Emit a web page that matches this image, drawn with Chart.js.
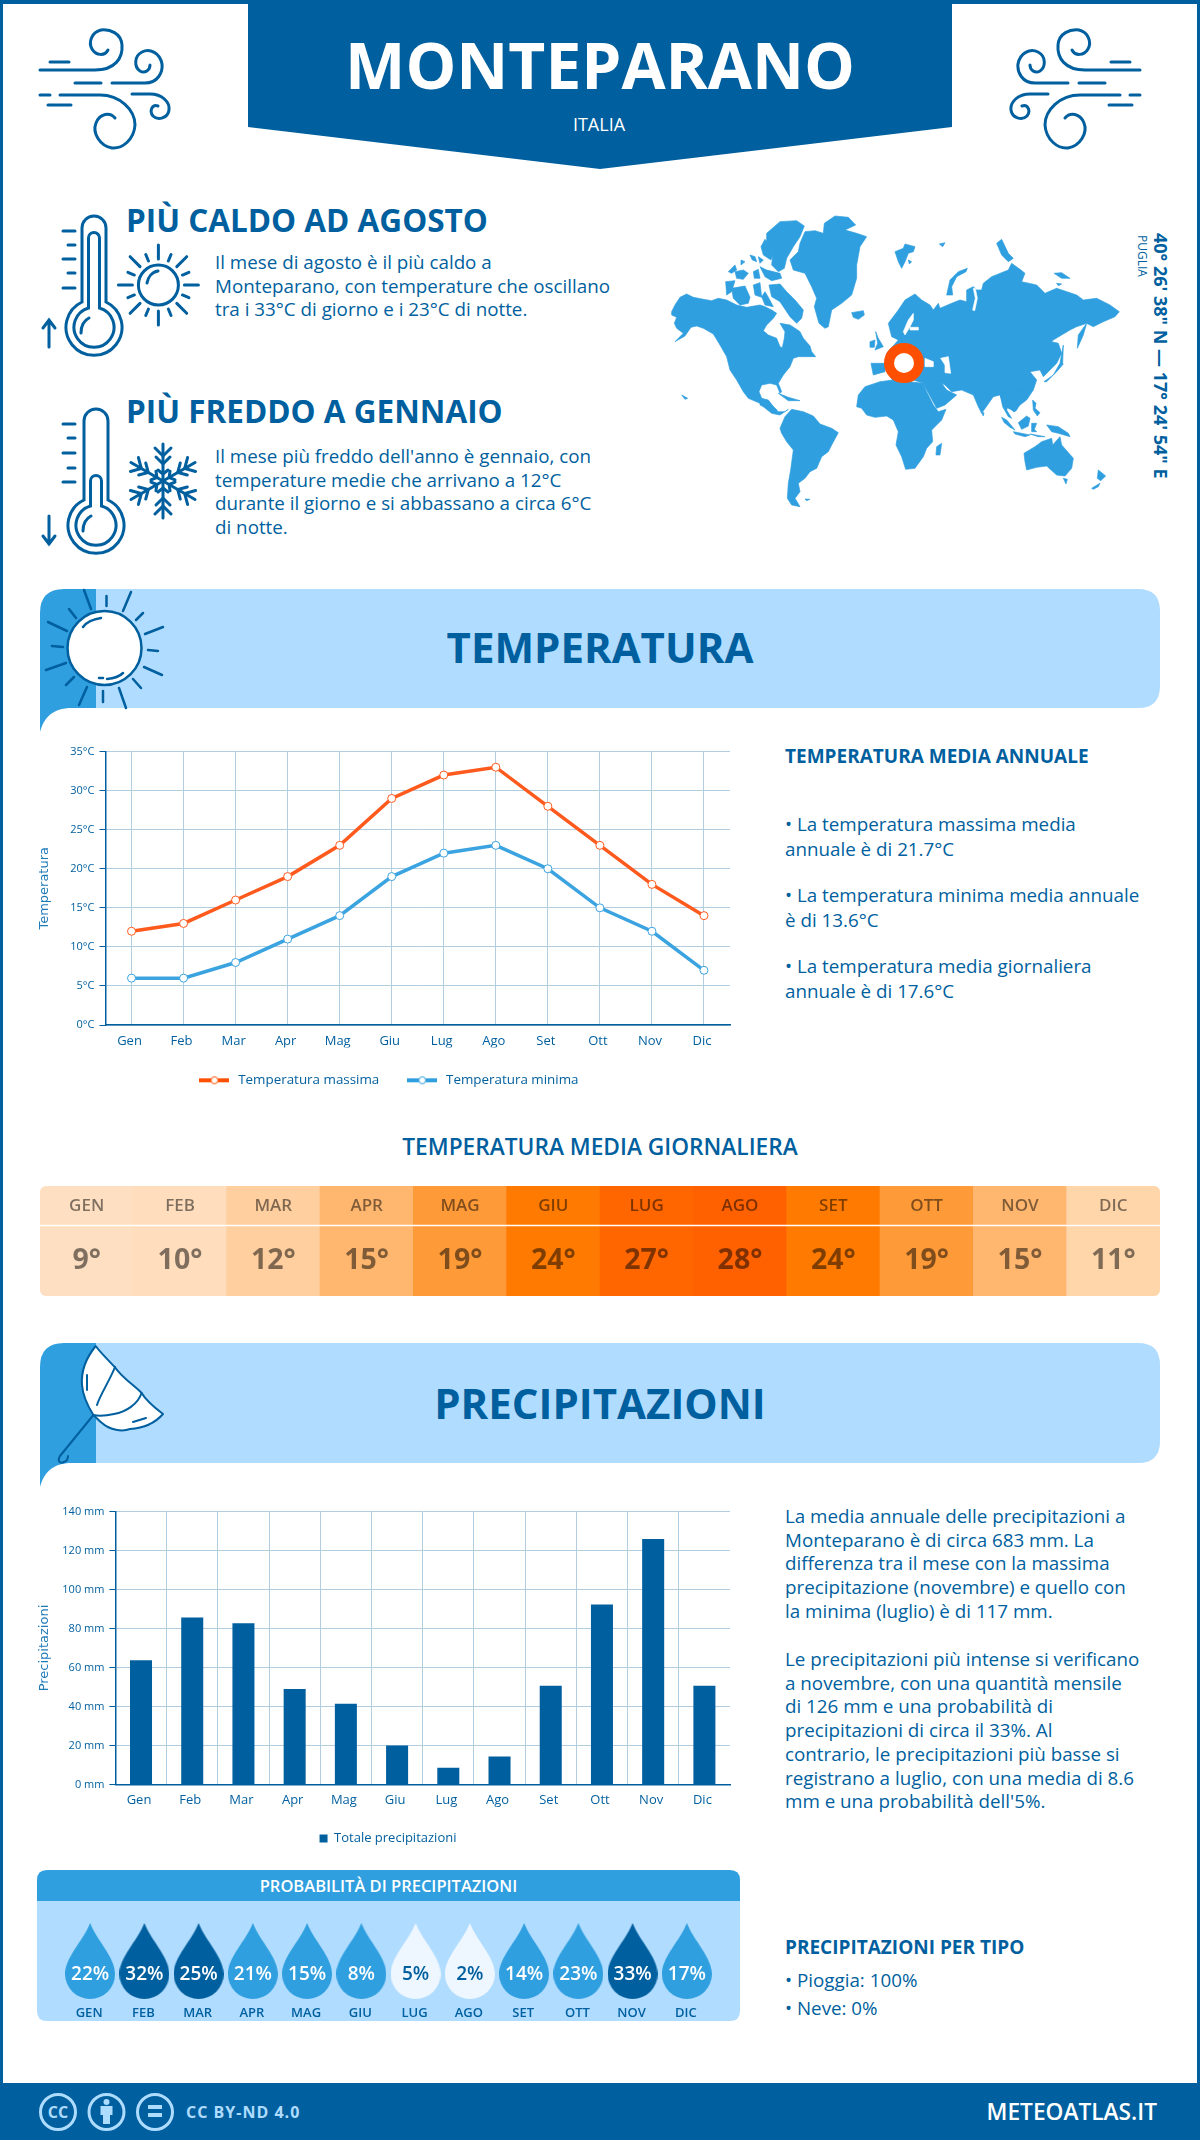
<!DOCTYPE html>
<html lang="it">
<head>
<meta charset="utf-8">
<title>Monteparano</title>
<script src="https://cdn.jsdelivr.net/npm/chart.js@4"></script>
<style>
    html, body { margin: 0; padding: 0; background: #fff; }
    body { position: relative; width: 1200px; height: 2140px; overflow: hidden; font-family: "Open Sans", sans-serif; color: #005f9e; }
    #decor, .frame, canvas, .t { position: absolute; }
    #decor { left: 0; top: 0; }
    .frame { left: 0; top: 0; width: 1194px; height: 2136px; border: solid #005f9e; border-width: 4px 3px 0 3px; }
    .t { white-space: nowrap; margin: 0; }
    .h2 { font-size: 31.5px; font-weight: 700; line-height: 40px; left: 126px; }
    .p { font-size: 18.8px; line-height: 23.7px; }
    .h3 { font-size: 19px; font-weight: 700; line-height: 24px; left: 785px; }
    .band { font-size: 42px; font-weight: 700; line-height: 56px; left: 0; width: 1200px; text-align: center; }
    .strip { left: 40px; top: 1186px; border-radius: 6px; }
</style>
</head>
<body>
<svg id="decor" width="1200" height="2140" viewBox="0 0 1200 2140"></svg>
<div class="frame"></div>

<p class="t" style="left:0;width:1200px;top:20px;text-align:center;font-size:64px;font-weight:700;line-height:90px;color:#fff">MONTEPARANO</p>
<p class="t" style="left:-1px;width:1200px;top:111px;text-align:center;font-size:18px;line-height:26px;color:#fff">ITALIA</p>

<p class="t h2" style="top:200px">PIÙ CALDO AD AGOSTO</p>
<p class="t p" style="left:215px;top:251px">Il mese di agosto è il più caldo a<br>Monteparano, con temperature che oscillano<br>tra i 33°C di giorno e i 23°C di notte.</p>
<p class="t h2" style="top:391px">PIÙ FREDDO A GENNAIO</p>
<p class="t p" style="left:215px;top:445px">Il mese più freddo dell'anno è gennaio, con<br>temperature medie che arrivano a 12°C<br>durante il giorno e si abbassano a circa 6°C<br>di notte.</p>

<p class="t" style="left:1151px;top:233px;writing-mode:vertical-rl;font-size:18px;font-weight:700;line-height:20px">40° 26' 38" N — 17° 24' 54" E</p>
<p class="t" style="left:1135px;top:235px;writing-mode:vertical-rl;font-size:12px;line-height:14px">PUGLIA</p>

<p class="t band" style="top:619px">TEMPERATURA</p>
<canvas id="tempChart" width="740" height="357" style="left:30px;top:740px"></canvas>
<p class="t h3" style="top:744px">TEMPERATURA MEDIA ANNUALE</p>
<p class="t p" style="left:785px;top:812px;line-height:24.5px">• La temperatura massima media<br>annuale è di 21.7°C</p>
<p class="t p" style="left:785px;top:883px;line-height:24.5px">• La temperatura minima media annuale<br>è di 13.6°C</p>
<p class="t p" style="left:785px;top:954px;line-height:24.5px">• La temperatura media giornaliera<br>annuale è di 17.6°C</p>

<p class="t" style="left:0;width:1200px;top:1132px;text-align:center;font-size:22.7px;font-weight:600;line-height:30px">TEMPERATURA MEDIA GIORNALIERA</p>
<canvas id="dailyChart" class="strip" width="1120" height="110"></canvas>

<p class="t band" style="top:1375px">PRECIPITAZIONI</p>
<canvas id="rainChart" width="740" height="355" style="left:30px;top:1500px"></canvas>
<p class="t p" style="left:785px;top:1505px">La media annuale delle precipitazioni a<br>Monteparano è di circa 683 mm. La<br>differenza tra il mese con la massima<br>precipitazione (novembre) e quello con<br>la minima (luglio) è di 117 mm.</p>
<p class="t p" style="left:785px;top:1648px">Le precipitazioni più intense si verificano<br>a novembre, con una quantità mensile<br>di 126 mm e una probabilità di<br>precipitazioni di circa il 33%. Al<br>contrario, le precipitazioni più basse si<br>registrano a luglio, con una media di 8.6<br>mm e una probabilità dell'5%.</p>

<p class="t" style="left:37px;width:703px;top:1871px;text-align:center;font-size:16.5px;font-weight:600;line-height:30px;color:#fff">PROBABILITÀ DI PRECIPITAZIONI</p>
<canvas id="chanceChart" width="703" height="120" style="left:37px;top:1901px"></canvas>

<p class="t h3" style="top:1935px">PRECIPITAZIONI PER TIPO</p>
<p class="t p" style="left:785px;top:1966px;line-height:28px">• Pioggia: 100%<br>• Neve: 0%</p>

<p class="t" style="left:186px;top:2099px;font-size:16px;font-weight:700;line-height:26px;letter-spacing:1px;color:#aedcff">CC BY-ND 4.0</p>
<p class="t" style="right:43px;top:2096px;font-size:22.7px;font-weight:600;line-height:32px;color:#fff">METEOATLAS.IT</p>

<script>
const months = ['Gen', 'Feb', 'Mar', 'Apr', 'Mag', 'Giu', 'Lug', 'Ago', 'Set', 'Ott', 'Nov', 'Dic'];
const monthsUpper = ['GEN', 'FEB', 'MAR', 'APR', 'MAG', 'GIU', 'LUG', 'AGO', 'SET', 'OTT', 'NOV', 'DIC'];

const tempMax = [12, 13, 16, 19, 23, 29, 32, 33, 28, 23, 18, 14];
const tempMin = [6, 6, 8, 11, 14, 19, 22, 23, 20, 15, 12, 7];
const tempTicks = [0, 5, 10, 15, 20, 25, 30, 35];

const dailyTemps = [9, 10, 12, 15, 19, 24, 27, 28, 24, 19, 15, 11];
const dailyColors = ['#ffdfc1', '#ffddbd', '#ffcf9f', '#ffb66e', '#ff9a38', '#ff7a00', '#ff6600', '#ff6000', '#ff7a00', '#ff9a38', '#ffb66e', '#ffd5aa'];

const rainTotals = [63.8, 85.7, 82.7, 49, 41.4, 20, 8.6, 14.4, 50.6, 92.4, 126, 50.6];
const rainChance = [22, 32, 25, 21, 15, 8, 5, 2, 14, 23, 33, 17];

const DARK = '#005f9e';
const MID = '#2f9fdf';
const LIGHT = '#b0dcff';
const GRID = '#b2cde0';
const ORANGE = '#ff5a1e';
const AXIS_TITLE = '#1f7ab8';
const TICK_FONT = { family: 'Open Sans', size: 11 };
const CAT_FONT = { family: 'Open Sans', size: 13 };
const TITLE_FONT = { family: 'DejaVu Sans', size: 13 };

document.addEventListener('DOMContentLoaded', () => {
    drawDecor();
    initTempChart();
    initDailyChart();
    initRainChart();
    initChanceChart();
});

/**
 * Line swatch with a hollow marker, for the temperature legend
 */
function lineSwatch(color) {
    const c = document.createElement('canvas');
    c.width = 30;
    c.height = 10;
    const g = c.getContext('2d');
    g.fillStyle = color;
    g.fillRect(0, 3, 30, 4);
    g.beginPath();
    g.arc(15, 5, 3.5, 0, Math.PI * 2);
    g.fillStyle = '#fff';
    g.fill();
    g.strokeStyle = color;
    g.lineWidth = 1;
    g.stroke();
    return c;
}

/**
 * Temperature lines
 */
function initTempChart() {
    const swatches = [lineSwatch('#ff4f00'), lineSwatch(MID)];

    new Chart(document.getElementById('tempChart'), {
        type: 'line',
        data: {
            labels: months,
            datasets: [
                { label: 'Temperatura massima', data: tempMax, borderColor: ORANGE },
                { label: 'Temperatura minima', data: tempMin, borderColor: '#3aa3e0' }
            ].map(ds => ({
                ...ds,
                borderWidth: 3.5,
                tension: 0,
                pointRadius: 4,
                pointBorderWidth: 1,
                pointBackgroundColor: '#fff',
                pointBorderColor: ds.borderColor
            }))
        },
        options: {
            responsive: false,
            animation: false,
            layout: { padding: { top: 10, right: 40, left: 16, bottom: 0 } },
            plugins: {
                tooltip: { enabled: false },
                legend: {
                    position: 'bottom',
                    labels: {
                        color: DARK,
                        font: { family: 'Open Sans', size: 13.4 },
                        usePointStyle: true,
                        pointStyleWidth: 34,
                        padding: 26,
                        generateLabels: chart => chart.data.datasets.map((ds, i) => ({
                            text: ds.label,
                            datasetIndex: i,
                            fontColor: DARK,
                            pointStyle: swatches[i],
                            lineWidth: 0
                        }))
                    }
                }
            },
            scales: {
                x: {
                    offset: true,
                    afterFit: scale => { scale.height = scale.chart.height - scale.chart.legend.height - 285; },
                    grid: { color: GRID, drawTicks: false },
                    border: { color: DARK, width: 1.5 },
                    ticks: { color: DARK, font: CAT_FONT, padding: 8, maxRotation: 0, labelOffset: -2 }
                },
                y: {
                    min: 0,
                    max: 35,
                    afterFit: scale => { scale.width = 59.5; },
                    afterBuildTicks: scale => { scale.ticks = tempTicks.map(v => ({ value: v })); },
                    title: { display: true, text: 'Temperatura', color: AXIS_TITLE, font: TITLE_FONT, padding: { top: -9, bottom: 0 } },
                    grid: { color: GRID, tickColor: DARK, tickLength: 6 },
                    border: { color: DARK, width: 1.5 },
                    ticks: { color: DARK, font: TICK_FONT, padding: 5, callback: v => `${v}°C` }
                }
            }
        }
    });
}

/**
 * Daily mean temperature strip: one coloured cell per month
 */
function initDailyChart() {
    const cellText = {
        id: 'cellText',
        afterDatasetsDraw(chart) {
            const { ctx, chartArea, scales } = chart;
            ctx.save();
            ctx.strokeStyle = '#fff';
            ctx.lineWidth = 1.5;
            ctx.beginPath();
            ctx.moveTo(chartArea.left, chartArea.top + 39.5);
            ctx.lineTo(chartArea.right, chartArea.top + 39.5);
            ctx.stroke();
            ctx.textAlign = 'center';
            ctx.textBaseline = 'middle';
            ctx.fillStyle = 'rgba(0, 0, 0, 0.5)';
            dailyTemps.forEach((t, i) => {
                const x = scales.x.getPixelForValue(i);
                ctx.font = '600 17px "Open Sans"';
                ctx.fillText(monthsUpper[i], x, chartArea.top + 20);
                ctx.font = '700 28.5px "Open Sans"';
                ctx.fillText(`${t}°`, x, chartArea.top + 75);
            });
            ctx.restore();
        }
    };

    new Chart(document.getElementById('dailyChart'), {
        type: 'bar',
        plugins: [cellText],
        data: {
            labels: monthsUpper,
            datasets: [{
                data: dailyTemps.map(() => 1),
                backgroundColor: dailyColors,
                barPercentage: 1,
                categoryPercentage: 1
            }]
        },
        options: {
            responsive: false,
            animation: false,
            plugins: { legend: { display: false }, tooltip: { enabled: false } },
            scales: {
                x: { display: false },
                y: { display: false, min: 0, max: 1 }
            }
        }
    });
}

/**
 * Monthly precipitation bars
 */
function initRainChart() {
    new Chart(document.getElementById('rainChart'), {
        type: 'bar',
        data: {
            labels: months,
            datasets: [{
                label: 'Totale precipitazioni',
                data: rainTotals,
                backgroundColor: DARK,
                barPercentage: 0.43,
                categoryPercentage: 1
            }]
        },
        options: {
            responsive: false,
            animation: false,
            layout: { padding: { top: 9.5, right: 40, left: 16, bottom: 0 } },
            plugins: {
                tooltip: { enabled: false },
                legend: {
                    position: 'bottom',
                    labels: {
                        color: DARK,
                        font: { family: 'Open Sans', size: 13 },
                        boxWidth: 8,
                        boxHeight: 8,
                        padding: 20
                    }
                }
            },
            scales: {
                x: {
                    afterFit: scale => { scale.height = scale.chart.height - scale.chart.legend.height - 284.5; },
                    grid: { color: ctx => (ctx.tick ? GRID : 'transparent'), drawTicks: false },
                    border: { color: DARK, width: 1.5 },
                    ticks: { color: DARK, font: CAT_FONT, padding: 8, maxRotation: 0, labelOffset: -2 }
                },
                y: {
                    min: 0,
                    max: 140,
                    afterFit: scale => { scale.width = 69.4; },
                    title: { display: true, text: 'Precipitazioni', color: AXIS_TITLE, font: TITLE_FONT, padding: { top: -9, bottom: 0 } },
                    grid: { color: GRID, tickColor: DARK, tickLength: 6 },
                    border: { color: DARK, width: 1.5 },
                    ticks: { color: DARK, font: TICK_FONT, padding: 5, stepSize: 20, callback: v => `${v} mm` }
                }
            }
        }
    });
}

/**
 * Teardrop marker for the precipitation chance row
 */
function dropImage(color) {
    const c = document.createElement('canvas');
    c.width = 50;
    c.height = 76;
    const g = c.getContext('2d');
    g.fillStyle = color;
    g.beginPath();
    g.moveTo(25, 0);
    g.bezierCurveTo(32, 18, 50, 34, 50, 51);
    g.arc(25, 51, 25, 0, Math.PI);
    g.bezierCurveTo(0, 34, 18, 18, 25, 0);
    g.fill();
    return c;
}

function chanceColor(pct) {
    if (pct >= 25) return DARK;
    if (pct >= 8) return MID;
    return '#eef7ff';
}

/**
 * Precipitation chance: one drop per month, coloured by its value
 */
function initChanceChart() {
    const drops = rainChance.map(p => dropImage(chanceColor(p)));

    const dropText = {
        id: 'dropText',
        afterDatasetsDraw(chart) {
            const { ctx } = chart;
            const points = chart.getDatasetMeta(0).data;
            ctx.save();
            ctx.textAlign = 'center';
            ctx.textBaseline = 'middle';
            rainChance.forEach((p, i) => {
                ctx.fillStyle = chanceColor(p) === '#eef7ff' ? DARK : '#fff';
                ctx.font = '600 19px "Open Sans"';
                ctx.fillText(`${p}%`, points[i].x, points[i].y + 14);
                ctx.fillStyle = DARK;
                ctx.font = '600 13px "Open Sans"';
                ctx.fillText(monthsUpper[i], points[i].x - 1, points[i].y + 52);
            });
            ctx.restore();
        }
    };

    new Chart(document.getElementById('chanceChart'), {
        type: 'line',
        plugins: [dropText],
        data: {
            labels: monthsUpper,
            datasets: [{
                data: rainChance.map(() => 1),
                showLine: false,
                clip: false,
                pointRadius: 25,
                pointStyle: ctx => drops[ctx.dataIndex]
            }]
        },
        options: {
            responsive: false,
            animation: false,
            layout: { padding: { bottom: 16 } },
            plugins: { legend: { display: false }, tooltip: { enabled: false } },
            scales: {
                x: { display: false, offset: true },
                y: { display: false, min: 0, max: 2 }
            }
        }
    });
}

/* === Non-data artwork: banner, bands, icons and map === */

function thermometer(cx, cy, top, innerTop) {
    const o = `<path d="M${cx - 12} ${top + 12} A12 12 0 0 1 ${cx + 12} ${top + 12} V${cy - 25} A28 28 0 1 1 ${cx - 12} ${cy - 25} Z"/>`;
    const i = `<path d="M${cx - 5.5} ${innerTop + 6} A5.5 5.5 0 0 1 ${cx + 5.5} ${innerTop + 6} V${cy - 19} A20 20 0 1 1 ${cx - 5.5} ${cy - 19} Z"/>`;
    const glint = `<path d="M${cx - 13} ${cy + 6} C${cx - 13} ${cy - 2} ${cx - 9} ${cy - 7} ${cx - 5} ${cy - 9}"/>`;
    return o + i + glint;
}

function radial(cx, cy, count, from, to, shortTo) {
    let out = '';
    for (let i = 0; i < count; i++) {
        const a = i * 2 * Math.PI / count;
        const r2 = i % 2 === 0 ? to : shortTo;
        out += `<line x1="${cx + from * Math.sin(a)}" y1="${cy - from * Math.cos(a)}" x2="${cx + r2 * Math.sin(a)}" y2="${cy - r2 * Math.cos(a)}"/>`;
    }
    return out;
}

function snowflake(cx, cy) {
    let out = '';
    for (let i = 0; i < 6; i++) {
        out += `<g transform="rotate(${i * 60} ${cx} ${cy})">
            <path d="M${cx} ${cy} V${cy - 37}"/>
            <path d="M${cx - 8} ${cy - 33} L${cx} ${cy - 25} L${cx + 8} ${cy - 33}"/>
            <path d="M${cx - 7} ${cy - 24} L${cx} ${cy - 17} L${cx + 7} ${cy - 24}"/>
            <path d="M${cx - 5} ${cy - 11} L${cx} ${cy - 7} L${cx + 5} ${cy - 11}"/>
        </g>`;
    }
    return out;
}

function windIcon() {
    return `<path d="M40 70 H95 C115 70 123 58 122 45 C121 33 110 29 101 30 C92 32 88 42 92 49 C96 56 105 56 108 50"/>
        <path d="M50 62 H69 M75 83 H101 M40 95 H50 M48 105 H71"/>
        <path d="M112 83 H145 C158 83 163 72 162 64 C160 53 150 48 142 52 C134 56 134 67 140 71 C145 74 150 70 150 65"/>
        <path d="M60 95 H100 C120 95 135 110 135 125 C134 140 122 149 112 148 C100 146 92 133 96 123 C100 113 110 112 115 118"/>
        <path d="M132 94 H150 C162 94 170 102 169 110 C168 118 158 121 153 116 C149 111 152 104 158 106"/>`;
}

// map outlines traced by eye, each group in 3x pixels from its own corner of the map
const mapWest = [
    '20,305 30,285 45,262 65,252 85,262 115,268 140,272 160,265 185,270 215,285 245,292 285,285 300,290 320,300 335,310 325,325 305,345 295,362 310,375 335,385 345,410 352,413 358,385 360,365 345,340 375,345 395,358 405,365 415,385 435,408 440,425 452,440 425,440 400,440 385,445 375,470 355,495 340,520 350,545 345,550 335,525 315,520 290,525 282,545 290,565 310,570 325,590 335,600 310,600 285,580 250,565 235,545 215,510 195,480 185,440 165,405 145,372 115,355 95,348 78,352 60,378 30,395 55,370 35,355 28,340 35,322 20,315',
    '312,225 345,222 365,245 390,270 415,300 410,325 395,340 375,320 345,275 320,260',
    '200,235 240,228 255,262 250,280 225,285 205,265', '182,215 210,212 200,245 185,255',
    '265,225 285,218 290,262 270,255', '300,245 310,262 325,290 300,285 290,260',
    '190,185 210,165 215,180 200,190', '210,185 235,180 250,190 235,208 215,205', '265,185 280,178 285,205 268,205',
    '285,170 305,180 345,190 350,205 320,212 300,200', '255,135 270,140 275,155 262,150', '280,140 295,150 285,160', '228,150 240,155 228,165',
    '305,70 345,35 395,32 418,48 405,80 385,110 365,145 358,175 340,185 320,165 325,120 305,95',
    '288,110 300,88 315,105 328,125 318,150 295,135',
    '375,150 400,125 405,100 420,65 450,62 475,70 478,40 510,18 550,22 572,45 540,60 575,70 605,80 585,110 575,165 575,205 560,255 530,280 500,300 490,350 480,355 462,340 448,290 455,265 440,230 420,190 385,180',
    '560,308 595,302 598,315 580,328 565,322',
    '632,365 640,385 655,410 630,420 638,400', '615,395 630,390 628,412 615,412', '618,460 660,460 660,485 625,495',
    '50,555 68,565 60,568', '340,550 370,562 405,572 370,572'
];
const mapEast = [
    '20,450 20,400 55,360 35,350 25,310 55,270 75,240 105,222 125,240 150,255 160,270 175,250 180,265 215,250 240,240 260,245 260,210 280,200 290,210 305,210 310,190 335,170 385,150 395,130 420,148 435,160 425,185 470,195 495,220 530,205 590,225 610,240 650,235 690,255 718,275 705,290 670,305 640,320 620,310 590,320 570,330 520,360 515,365 535,370 545,400 530,430 490,470 480,450 450,455 470,480 460,510 440,540 420,555 405,575 385,565 370,555 360,525 340,530 305,580 295,560 280,525 245,510 215,515 195,495 185,490 200,510 230,525 195,555 170,565 140,510 130,490 100,480 40,485',
    '200,225 210,180 235,155 262,145 258,155 230,170 215,200 218,225',
    '45,95 70,85 75,72 105,80 100,95 85,100 75,125 65,145 55,125', '85,120 95,125 88,132', '178,72 195,68 188,80',
    '350,70 365,58 385,100 400,115 385,125 365,105', '522,160 545,158 570,175 545,175', '530,190 545,192 535,197',
    '592,385 595,345 620,310 610,345', '492,485 520,465 540,430 550,375 548,430 550,432 530,455 500,485', '305,578 312,578 310,588'
];
const mapEastWater = [
    '182,415 205,410 212,460 195,458 195,435', '135,415 160,425 160,440 135,440',
    '100,280 85,300 70,335 75,345 90,320 100,300', '90,322 115,322 115,330 90,330', '278,270 286,235 280,205 286,205 292,235 284,272'
];
const mapSouth = [
    '0,0 30,10 55,35 75,35 85,28 60,45 35,40 10,20 0,15',
    '60,85 75,50 95,28 130,35 160,48 180,72 215,85 235,98 215,135 205,155 185,170 170,205 150,215 135,235 115,250 120,275 105,295 120,320 95,315 82,295 85,250 92,210 100,150 80,125 65,100',
    '135,297 150,298 140,302',
    '290,20 295,-15 315,-40 360,-55 400,-60 490,-50 500,-25 520,15 535,35 558,28 545,60 515,90 518,125 500,145 490,170 465,205 437,208 425,170 408,135 415,95 400,60 380,48 345,52 320,45 305,25',
    '545,130 540,165 528,165 530,140'
];
const mapOceania = [
    '60,10 150,0 120,30 110,60 100,65 85,45 80,60 95,85 85,80 68,50',
    '65,82 80,90 105,120 90,112 72,97', '100,125 150,135 135,140 105,132', '115,98 140,78 150,85 145,108 125,118',
    '155,100 170,100 163,118 170,125 155,125', '158,30 168,40 165,55 180,68 172,78 160,60', '200,105 235,110 265,130 270,140 235,130 215,125',
    '150,132 195,140 175,140',
    '132,190 165,170 185,155 215,145 218,165 240,140 245,165 280,205 275,235 255,258 230,255 200,228 170,232 140,240 135,215',
    '250,265 262,268 258,282', '355,240 377,258 362,272 352,265', '335,295 360,280 355,290 340,298'
];

function mapGroup(x, y, shapes, fill) {
    const polys = shapes.map(p => `<polygon points="${p}"/>`).join('');
    return `<g transform="translate(${x} ${y}) scale(0.3333)" fill="${fill}" stroke="${fill}" stroke-width="2" stroke-linejoin="round">${polys}</g>`;
}

function drawDecor() {
    const band = (top, bottom) => `
        <path fill="${LIGHT}" d="M96 ${top} H1138 Q1160 ${top} 1160 ${top + 22} V${bottom - 22} Q1160 ${bottom} 1138 ${bottom} H96 Z"/>
        <path fill="${MID}" d="M96 ${top} H64 Q40 ${top} 40 ${top + 24} V${bottom + 24} C44 ${bottom + 10} 52 ${bottom} 72 ${bottom} H96 Z"/>`;

    document.getElementById('decor').innerHTML = `
        <rect x="0" y="2083" width="1200" height="57" fill="${DARK}"/>
        <polygon points="248,0 952,0 952,127 600,169 248,127" fill="${DARK}"/>

        <g fill="none" stroke="${DARK}" stroke-width="3" stroke-linecap="round">
            ${windIcon()}
            <g transform="translate(1180 0) scale(-1 1)">${windIcon()}</g>

            ${thermometer(94, 327, 216, 232)}
            <path d="M63 231 H75 M68 245 H75 M63 259 H75 M68 273 H75 M63 288 H75"/>
            <path d="M49 347 V320 M43 328 L49 320 L55 328"/>
            <circle cx="158.4" cy="285" r="20"/>
            <path d="M147 283 C148 277 152 272 158 271"/>
            ${radial(158.4, 285, 16, 26, 40, 33)}

            ${thermometer(96, 525, 409, 475)}
            <path d="M63 424 H75 M68 438 H75 M63 453 H75 M68 468 H75 M63 482 H75"/>
            <path d="M49 516 V544 M43 536 L49 544 L55 536"/>
            ${snowflake(163, 481)}
        </g>

        ${band(589, 708)}
        <g stroke="${DARK}" stroke-width="2.5" stroke-linecap="round" fill="none">
            <path d="M84 590 L91 609 M131 592 L123 611 M163 627 L145 634 M162 675 L144 667 M119 688 L126 708 M87 687 L79 705 M66 663 L46 670 M67 631 L48 622 M106.5 596 V606 M69 609 L76 618 M143 613 L136 620 M148 650 L158 651 M133 679 L141 688 M103 691 V702 M74 677 L66 685 M52 646 L63 647"/>
            <circle cx="104.5" cy="648" r="37" fill="#fff"/>
            <path d="M83 627 Q88 620 101 618 M107 679 Q118 678 123 673 M99 678 H103"/>
        </g>

        ${band(1343, 1463)}
        <g stroke="${DARK}" stroke-width="2" stroke-linecap="round" stroke-linejoin="round" fill="none">
            <path d="M93.4 1415 L60 1456 C57 1461 60 1464 64 1462 C67 1461 68 1458 68 1456"/>
            <path fill="#fff" d="M95.7 1346 C86 1358 81 1372 82 1385 C83 1398 89 1408 93.4 1415 C97 1418 99 1421 102 1423 C110 1430 122 1432 130 1429 C145 1428 156 1422 163 1414 C155 1408 147 1402 141.6 1393 C134 1385 122 1378 114.8 1367 C108 1360 100 1352 95.7 1346 Z"/>
            <path d="M115 1367 C110 1380 100 1395 97 1405 M141.6 1393 C138 1404 126 1412 114 1414 C105 1416 98 1416 93.4 1415 M87 1375 V1390 M133 1422 L146 1418"/>
        </g>

        ${mapGroup(665, 210, mapWest, MID)}
        ${mapGroup(760, 400, mapSouth, MID)}
        ${mapGroup(880, 220, mapEast, MID)}
        ${mapGroup(880, 220, mapEastWater, '#fff')}
        ${mapGroup(980, 390, mapOceania, MID)}
        <circle cx="904" cy="363" r="15" fill="#fff" stroke="#ff4f00" stroke-width="10"/>

        <path fill="${MID}" d="M37 1901 V1880 Q37 1870 47 1870 H730 Q740 1870 740 1880 V1901 Z"/>
        <path fill="${LIGHT}" d="M37 1901 H740 V2011 Q740 2021 730 2021 H47 Q37 2021 37 2011 Z"/>

        <g fill="none" stroke="#aedcff" stroke-width="3">
            <circle cx="58" cy="2112" r="17.5"/>
            <circle cx="106.5" cy="2112" r="17.5"/>
            <circle cx="155" cy="2112" r="17.5"/>
        </g>
        <text x="58" y="2118" text-anchor="middle" font-family="Open Sans" font-weight="700" font-size="16" fill="#aedcff">CC</text>
        <g fill="#aedcff">
            <circle cx="106.5" cy="2102" r="3"/>
            <path d="M100.5 2106 H112.5 V2115 H110 V2124 H103 V2115 H100.5 Z"/>
            <rect x="148" y="2105" width="14" height="4"/>
            <rect x="148" y="2113" width="14" height="4"/>
        </g>`;
}
</script>
</body>
</html>
